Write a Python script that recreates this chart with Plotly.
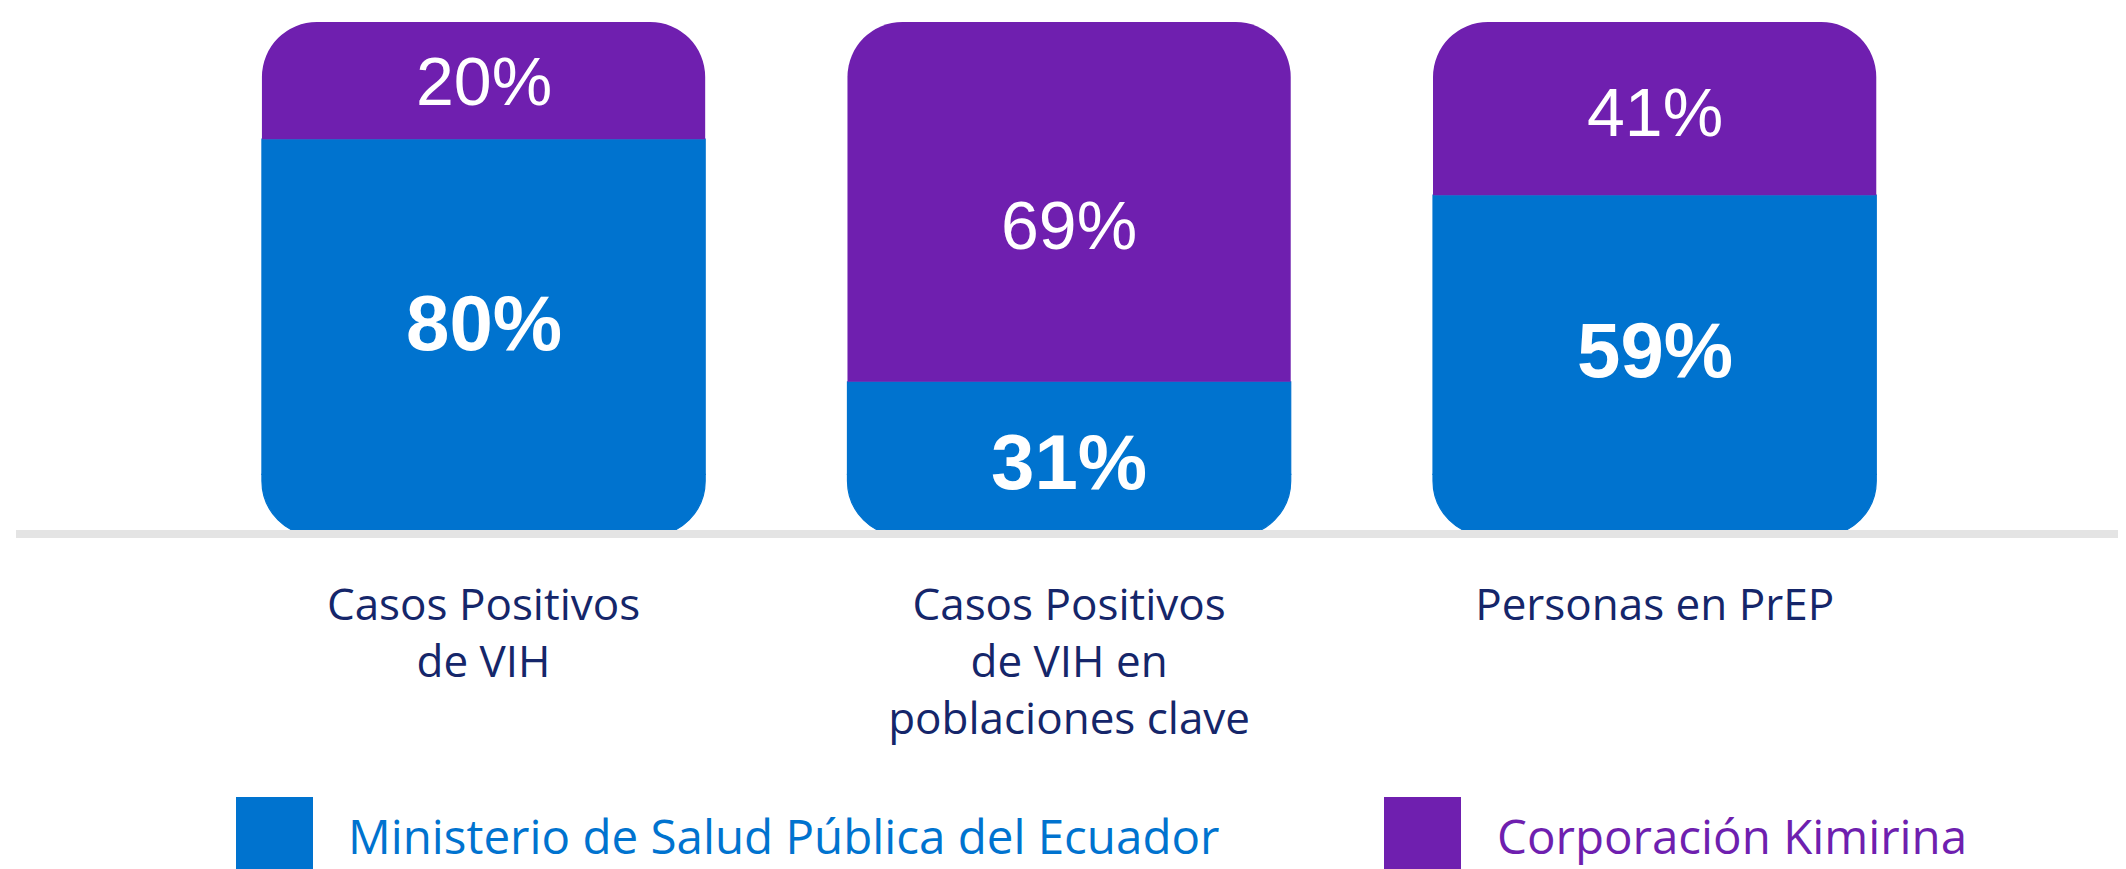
import plotly.graph_objects as go

# ---- data ----
categories = ["Casos Positivos<br>de VIH",
              "Casos Positivos<br>de VIH en<br>poblaciones clave",
              "Personas en PrEP"]
series_names = ["Ministerio de Salud Pública del Ecuador", "Corporación Kimirina"]
# percentage labels printed on the bars
msp_labels = ["80%", "31%", "59%"]
kimirina_labels = ["20%", "69%", "41%"]
# segment heights as drawn in the picture (share of the full column)
msp_height = [77.2, 30.0, 66.3]
kimirina_height = [22.8, 70.0, 33.7]

# ---- style ----
BLUE = "#0073CF"
PURPLE = "#6F1FAF"
NAVY = "#15266A"
msp_label_nudge = [15, -3, 16]       # px, vertical nudge of the labels
kimirina_label_nudge = [0, -23, -3]
x = list(range(len(categories)))

# The column is split at a common level Z so that the lower end (negative stack)
# and the upper end (positive stack) both get rounded corners in 'relative' mode.
Z = 12.0

fig = go.Figure()
fig.add_trace(go.Bar(  # bottom piece of the blue segment (rounded bottom)
    x=x, y=[-Z for _ in msp_height], name=series_names[0],
    marker=dict(color=BLUE, line=dict(width=1.2, color=BLUE)), width=0.757,
    showlegend=False, hoverinfo="skip"))
fig.add_trace(go.Bar(  # rest of the blue segment
    x=x, y=[v - Z for v in msp_height], name=series_names[0],
    marker=dict(color=BLUE, line=dict(width=1.2, color=BLUE)), width=0.757,
    showlegend=False, hoverinfo="skip"))
fig.add_trace(go.Bar(  # purple segment (rounded top)
    x=x, y=kimirina_height, name=series_names[1],
    marker=dict(color=PURPLE, line=dict(width=0)), width=0.757,
    showlegend=False, hoverinfo="skip"))

# value labels centred in each segment
for i in x:
    fig.add_annotation(x=i, y=msp_height[i] / 2 - Z, text=msp_labels[i], showarrow=False,
                       yshift=msp_label_nudge[i],
                       font=dict(family="Liberation Sans, Arial, sans-serif", size=78,
                                 color="white", weight="bold"))
    fig.add_annotation(x=i, y=msp_height[i] + kimirina_height[i] / 2 - Z,
                       text=kimirina_labels[i], showarrow=False,
                       yshift=kimirina_label_nudge[i],
                       font=dict(family="Liberation Sans, Arial, sans-serif", size=68,
                                 color="white"))

# page offset (body margin) compensation
OFF = 8
FW, FH = 2126 - OFF, 869 - OFF
L = 16 - OFF
TOP, BOT = 22 - OFF, 536 - OFF
PW = FW - L


def px_x(p):
    return (p - OFF - L) / PW


def px_y(p):
    return (BOT - (p - OFF)) / (BOT - TOP)


# baseline
fig.add_shape(type="line", xref="paper", yref="paper", x0=0, x1=1,
              y0=px_y(534), y1=px_y(534),
              line=dict(color="#E4E4E4", width=8), layer="above")

# custom legend (large swatches)
legend_items = [(236, 346, BLUE), (1384, 1495, PURPLE)]
for (sx, tx, col), name in zip(legend_items, series_names):
    fig.add_shape(type="rect", xref="paper", yref="paper",
                  x0=px_x(sx), x1=px_x(sx + 77), y0=px_y(797), y1=px_y(874),
                  fillcolor=col, line=dict(width=0))
    fig.add_annotation(xref="paper", yref="paper", x=px_x(tx), y=px_y(835),
                       text=name, showarrow=False, xanchor="left", yanchor="middle",
                       font=dict(family="Open Sans, sans-serif", size=47.5, color=col))

fig.update_layout(
    width=FW, height=FH,
    margin=dict(l=L, r=0, t=TOP, b=FH - BOT),
    paper_bgcolor="white", plot_bgcolor="white",
    barmode="relative", barcornerradius=55,
    showlegend=False,
    xaxis=dict(range=[-0.7985, 2.805], tickvals=x, ticktext=categories,
               showgrid=False, zeroline=False, showline=False,
               ticks="outside", ticklen=30, tickcolor="rgba(0,0,0,0)",
               tickfont=dict(family="Open Sans, sans-serif", size=44, color=NAVY),
               fixedrange=True),
    yaxis=dict(range=[-Z, 100 - Z], visible=False, fixedrange=True),
)

fig.write_html("out.html")
